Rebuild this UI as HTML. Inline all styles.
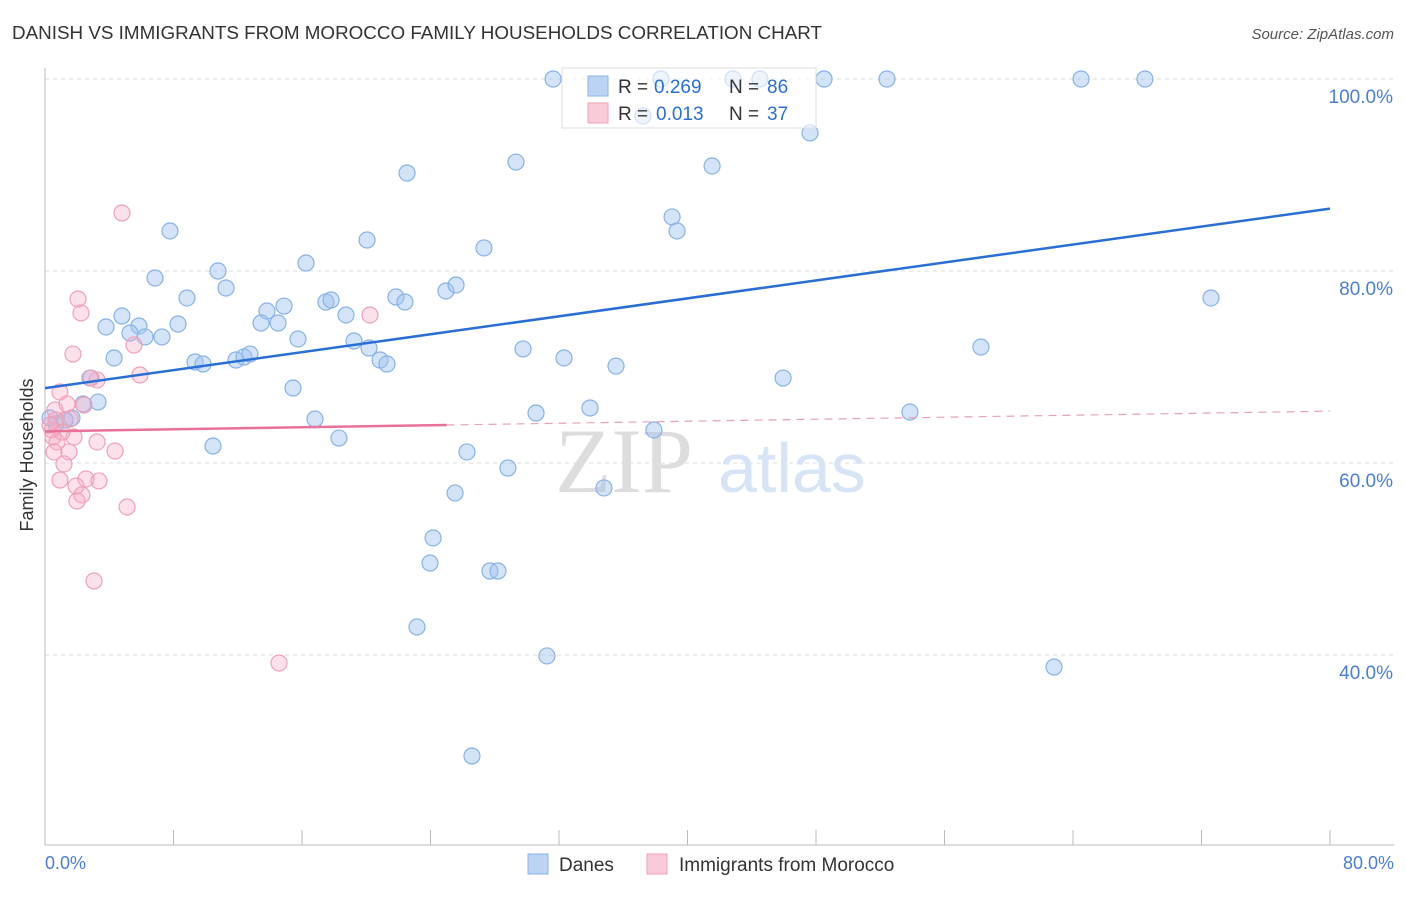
<!DOCTYPE html>
<html><head><meta charset="utf-8"><style>
body{margin:0;background:#fff;width:1406px;height:892px;overflow:hidden;font-family:"Liberation Sans",sans-serif}
</style></head><body>
<svg width="1406" height="892" font-family="Liberation Sans, sans-serif">
<text x="12" y="39" font-size="18" fill="#333" textLength="810" lengthAdjust="spacingAndGlyphs">DANISH VS IMMIGRANTS FROM MOROCCO FAMILY HOUSEHOLDS CORRELATION CHART</text>
<text x="1394" y="39" font-size="15" fill="#555" font-style="italic" text-anchor="end">Source: ZipAtlas.com</text>
<g id="grid"></g>
<text x="555" y="492" font-size="92" fill="#ddd" font-family="Liberation Serif, serif">ZIP</text>
<text x="718" y="492" font-size="70" fill="#d6e4f6">atlas</text>
<g id="pts"></g>
<g id="lines"></g>
<text x="33" y="455" font-size="18" fill="#333" transform="rotate(-90 33 455)" text-anchor="middle">Family Households</text>
<text x="45" y="869" font-size="18" fill="#4a7fd6">0.0%</text>
<text x="1394" y="869" font-size="18" fill="#4a7fd6" text-anchor="end">80.0%</text>
<g>
<rect x="562" y="68" width="254" height="60" fill="rgba(255,255,255,0.6)" stroke="#ddd"/>
<rect x="588" y="76" width="20" height="20" fill="#bcd4f4" stroke="#8ab4e8"/>
<text x="618" y="93" font-size="19" fill="#333">R = </text>
<text x="654" y="93" font-size="19" fill="#2a6fd6">0.269</text>
<text x="729" y="93" font-size="19" fill="#333">N = </text>
<text x="767" y="93" font-size="19" fill="#2a6fd6">86</text>
<rect x="588" y="103" width="20" height="20" fill="#f9cbd9" stroke="#f0a0ba"/>
<text x="618" y="120" font-size="19" fill="#333">R = </text>
<text x="656" y="120" font-size="19" fill="#2a6fd6">0.013</text>
<text x="729" y="120" font-size="19" fill="#333">N = </text>
<text x="767" y="120" font-size="19" fill="#2a6fd6">37</text>
</g>
<g>
<rect x="528" y="854" width="20" height="20" fill="#bcd4f4" stroke="#8ab4e8"/>
<text x="559" y="871" font-size="19" fill="#333">Danes</text>
<rect x="647" y="854" width="20" height="20" fill="#f9cbd9" stroke="#f0a0ba"/>
<text x="679" y="871" font-size="19" fill="#333">Immigrants from Morocco</text>
</g>
</svg>
<script>
const yTicks=[40,60,80,100];
const xTickVals=[0,8,16,24,32,40,48,56,64,72,80];
const bluePx=[[553,79],[733,79],[760,79],[824,79],[887,79],[1081,79],[1145,79],[661,79],[643,116],[810,133],[516,162],[712,166],[407,173],[672,217],[677,231],[170,231],[367,240],[484,248],[306,263],[218,271],[155,278],[226,288],[187,298],[446,291],[456,285],[396,297],[405,302],[326,302],[331,300],[284,306],[267,311],[346,315],[1211,298],[122,316],[106,327],[139,326],[178,324],[261,323],[278,323],[130,333],[145,337],[162,337],[298,339],[354,341],[369,348],[523,349],[981,347],[114,358],[195,362],[203,364],[236,360],[244,357],[250,354],[380,360],[387,364],[564,358],[616,366],[90,378],[783,378],[293,388],[98,402],[83,404],[72,418],[65,420],[56,424],[50,418],[315,419],[536,413],[590,408],[910,412],[654,430],[339,438],[213,446],[467,452],[508,468],[455,493],[604,488],[433,538],[430,563],[490,571],[498,571],[417,627],[547,656],[1054,667],[472,756]];
const pinkPx=[[122,213],[78,299],[81,313],[370,315],[134,345],[73,354],[140,375],[97,380],[91,378],[60,392],[67,404],[84,405],[56,420],[70,419],[52,430],[53,437],[74,437],[57,442],[97,442],[115,451],[54,452],[69,452],[64,464],[60,480],[86,479],[99,481],[76,486],[82,495],[77,501],[127,507],[94,581],[279,663],[55,410],[50,425],[62,432]];
const danesX=bluePx.map(p=>+((p[0]-45)/16.0625).toFixed(2));
const danesY=bluePx.map(p=>+(100-(p[1]-79)/9.6).toFixed(2));
const moroccoX=pinkPx.map(p=>+((p[0]-45)/16.0625).toFixed(2));
const moroccoY=pinkPx.map(p=>+(100-(p[1]-79)/9.6).toFixed(2));
const blueTrend=[67.8,86.5];
const pinkTrend=[63.3,65.4];
const pinkSolidEnd=25;
const X=v=>45+v*16.0625, Y=v=>79+(100-v)*9.6;
const NS="http://www.w3.org/2000/svg";
function mk(t,a,p){const e=document.createElementNS(NS,t);for(const k in a)e.setAttribute(k,a[k]);p.appendChild(e);return e;}
const g=document.getElementById('grid');
yTicks.forEach(v=>{
 const l=mk('line',{x1:45,x2:1394,y1:Y(v),y2:Y(v),stroke:'#ddd','stroke-dasharray':'4,4'},g);
 
 
 const t=mk('text',{x:1393,y:Y(v)+24,'font-size':19,fill:'#4a7fd6','text-anchor':'end'},g);
 t.textContent=v.toFixed(1)+'%';
 
 
});
mk('line',{x1:45,x2:45,y1:68,y2:845,stroke:'#bbb'},g);
mk('line',{x1:45,x2:1394,y1:845,y2:845,stroke:'#bbb'},g);
xTickVals.forEach(v=>{const l=mk('line',{x1:X(v),x2:X(v),y1:830,y2:845,stroke:'#bbb'},g);
 
 });
const pg=document.getElementById('pts');
danesX.forEach((x,i)=>{const c=mk('circle',{cx:X(x),cy:Y(danesY[i]),r:8,fill:'rgba(160,196,240,0.45)',stroke:'#88b2e6','stroke-width':1.2},pg);
 
 });
moroccoX.forEach((x,i)=>{const c=mk('circle',{cx:X(x),cy:Y(moroccoY[i]),r:8,fill:'rgba(245,170,195,0.35)',stroke:'#f0a0ba','stroke-width':1.2},pg);
 
 });
const lg=document.getElementById('lines');
const pl=(v)=>pinkTrend[0]+(pinkTrend[1]-pinkTrend[0])*v/80;
const b=mk('line',{x1:X(0),y1:Y(blueTrend[0]),x2:X(80),y2:Y(blueTrend[1]),stroke:'#2a6fd6','stroke-width':2.5},lg);


const p1=mk('line',{x1:X(0),y1:Y(pl(0)),x2:X(pinkSolidEnd),y2:Y(pl(pinkSolidEnd)),stroke:'#e8729a','stroke-width':2.5},lg);


const p2=mk('line',{x1:X(pinkSolidEnd),y1:Y(pl(pinkSolidEnd)),x2:X(80),y2:Y(pl(80)),stroke:'#e8a0b8','stroke-width':1.2,'stroke-dasharray':'8,6'},lg);


</script>
</body></html>
